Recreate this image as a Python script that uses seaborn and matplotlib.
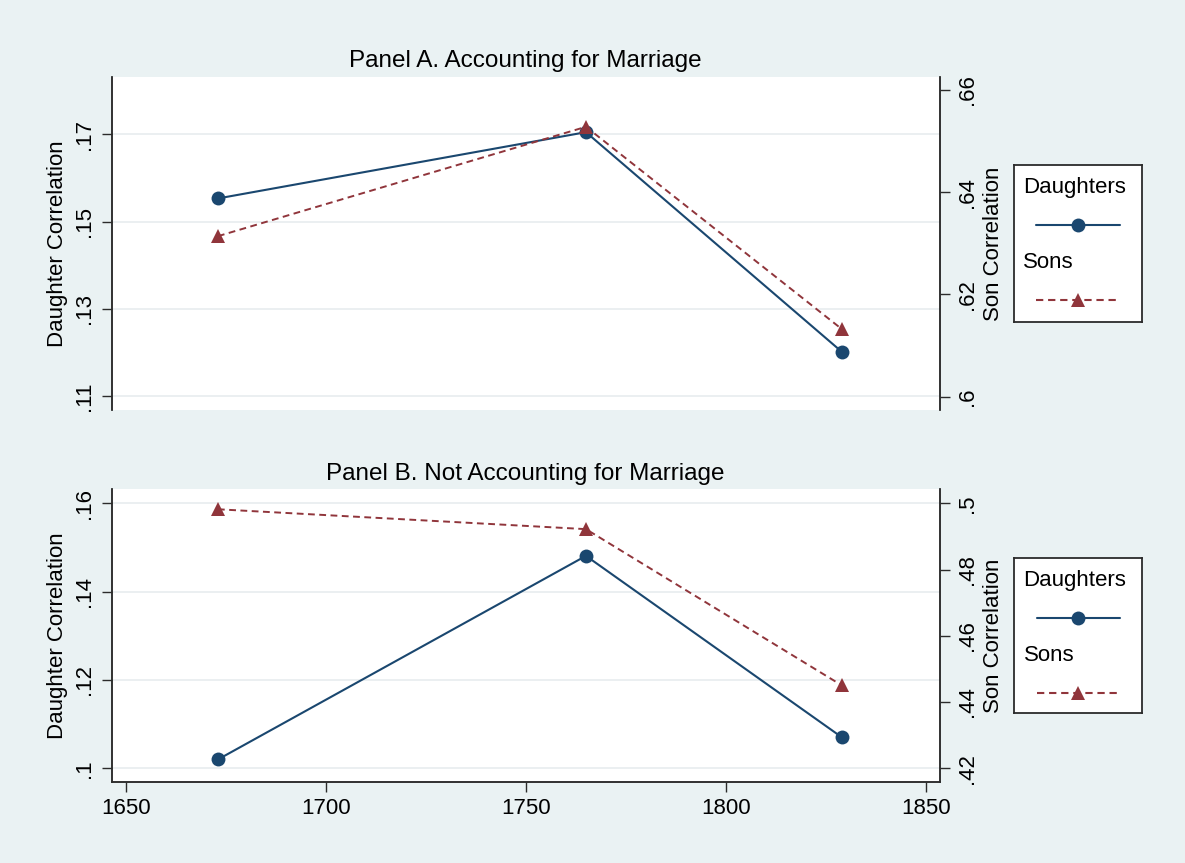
import matplotlib
matplotlib.use("Agg")
import matplotlib.pyplot as plt
import seaborn as sns
import pandas as pd
from matplotlib.lines import Line2D

# ---------------- data ----------------
years = [1673, 1765, 1829]
a_daughters = [0.1553, 0.1705, 0.1201]
a_sons = [0.6314, 0.6528, 0.6132]
b_daughters = [0.1020, 0.1481, 0.1070]
b_sons = [0.4982, 0.4922, 0.4450]

x_ticks = [1650, 1700, 1750, 1800, 1850]
a_left_ticks = [0.11, 0.13, 0.15, 0.17]
a_right_ticks = [0.60, 0.62, 0.64, 0.66]
b_left_ticks = [0.10, 0.12, 0.14, 0.16]
b_right_ticks = [0.42, 0.44, 0.46, 0.48, 0.50]

titles = ["Panel A. Accounting for Marriage", "Panel B. Not Accounting for Marriage"]
series_names = ["Daughters", "Sons"]
left_label = "Daughter Correlation"
right_label = "Son Correlation"

# ---------------- style ----------------
NAVY = "#1a476f"
MAROON = "#90353b"
BG = "#eaf2f3"
GRID = "#e9eef0"
AXC = "#2b2b2b"
FONT = ["Liberation Sans", "DejaVu Sans"]

sns.set_theme(style="white")
plt.rcParams["font.family"] = FONT
plt.rcParams["text.color"] = "black"
plt.rcParams["axes.labelcolor"] = "black"
plt.rcParams["xtick.labelcolor"] = "black"
plt.rcParams["ytick.labelcolor"] = "black"
plt.rcParams["axes.titlecolor"] = "black"

W, H = 1185, 863
fig = plt.figure(figsize=(W / 100, H / 100), dpi=100, facecolor=BG)


def fmt(v):
    s = f"{v:.2f}".rstrip("0")
    return s.lstrip("0")


def px_rect(x0, y0, x1, y1):
    return [x0 / W, 1 - y1 / H, (x1 - x0) / W, (y1 - y0) / H]


panels = [
    dict(rect=px_rect(111.5, 76.7, 940, 410), title=titles[0], d=a_daughters, s=a_sons,
         lt=a_left_ticks, rt=a_right_ticks, ylim=(0.10679, 0.18322), ylim2=(0.5974, 0.6626),
         xaxis=False, leg=(1013.6, 165, 1141.5, 322)),
    dict(rect=px_rect(111.5, 489.3, 940, 781.7), title=titles[1], d=b_daughters, s=b_sons,
         lt=b_left_ticks, rt=b_right_ticks, ylim=(0.09697, 0.16317), ylim2=(0.41595, 0.50423),
         xaxis=True, leg=(1014, 557.7, 1141.7, 713)),
]

for p in panels:
    ax = fig.add_axes(p["rect"])
    ax.set_facecolor("white")
    df = pd.DataFrame({"year": years, "daughters": p["d"], "sons": p["s"]})

    sns.lineplot(data=df, x="year", y="daughters", ax=ax, color=NAVY, marker="o",
                 markersize=10, markeredgewidth=0, linewidth=1.5, legend=False, zorder=3)
    ax.set_xlim(1646.4, 1853.5)
    ax.set_ylim(*p["ylim"])
    ax.set_yticks(p["lt"])
    ax.set_yticklabels([fmt(v) for v in p["lt"]], rotation=90, va="center", fontsize=16)
    ax.yaxis.grid(True, color=GRID, linewidth=1.3)
    ax.set_axisbelow(True)
    ax.set_ylabel(left_label, fontsize=16, labelpad=4)
    ax.set_title(p["title"], fontsize=17.5, pad=7)
    ax.tick_params(axis="y", which="both", left=True, length=7, width=1, color=AXC, pad=5)

    tw = ax.twinx()
    sns.lineplot(data=df, x="year", y="sons", ax=tw, color=MAROON, marker="^",
                 markersize=10.5, markeredgewidth=0, linewidth=1.4,
                 linestyle=(0, (3.5, 2.3)), legend=False, zorder=3)
    tw.set_xlim(1646.4, 1853.5)
    tw.set_ylim(*p["ylim2"])
    tw.set_yticks(p["rt"])
    tw.set_yticklabels([fmt(v) for v in p["rt"]], rotation=90, va="center", fontsize=16)
    tw.set_ylabel(right_label, fontsize=16, labelpad=4)
    tw.tick_params(axis="y", which="both", right=True, length=7, width=1, color=AXC, pad=5)
    tw.grid(False)

    for a in (ax, tw):
        a.spines["top"].set_visible(False)
        a.spines["left"].set_visible(True)
        a.spines["right"].set_visible(True)
        for sp in a.spines.values():
            sp.set_color(AXC)
            sp.set_linewidth(1.1)

    if p["xaxis"]:
        ax.set_xticks(x_ticks)
        ax.set_xticklabels([str(v) for v in x_ticks], fontsize=16)
        ax.tick_params(axis="x", bottom=True, length=7, width=1, color=AXC, pad=5)
        ax.set_xlabel("")
        tw.spines["bottom"].set_visible(True)
        ax.spines["bottom"].set_visible(True)
    else:
        ax.set_xticks([])
        ax.set_xlabel("")
        ax.spines["bottom"].set_visible(False)
        tw.spines["bottom"].set_visible(False)
    tw.set_xlabel("")

    # legend box (Stata-style: label above key)
    x0, y0, x1, y1 = p["leg"]
    lg = fig.add_axes(px_rect(x0, y0, x1, y1))
    lg.set_facecolor("white")
    lw_, lh_ = x1 - x0, y1 - y0
    lg.set_xlim(0, lw_)
    lg.set_ylim(lh_, 0)
    lg.set_xticks([])
    lg.set_yticks([])
    for sp in lg.spines.values():
        sp.set_visible(True)
        sp.set_color(AXC)
        sp.set_linewidth(1.3)
    keys = [
        (series_names[0], NAVY, "o", "-", 10),
        (series_names[1], MAROON, "^", (0, (3.5, 2.3)), 10.5),
    ]
    for i, (name, col, mk, ls, ms) in enumerate(keys):
        ty = 22.5 + i * 75
        ly = 60.5 + i * 75
        lg.text(9.5, ty, name, fontsize=16, va="center", ha="left", color="black")
        lg.add_line(Line2D([22.5, lw_ - 21.5], [ly, ly], color=col, linestyle=ls, linewidth=1.5))
        lg.add_line(Line2D([(22.5 + lw_ - 21.5) / 2], [ly], color=col, marker=mk,
                           markersize=ms, markeredgewidth=0, linestyle="none"))

fig.savefig("out.png", dpi=100, facecolor=BG)
